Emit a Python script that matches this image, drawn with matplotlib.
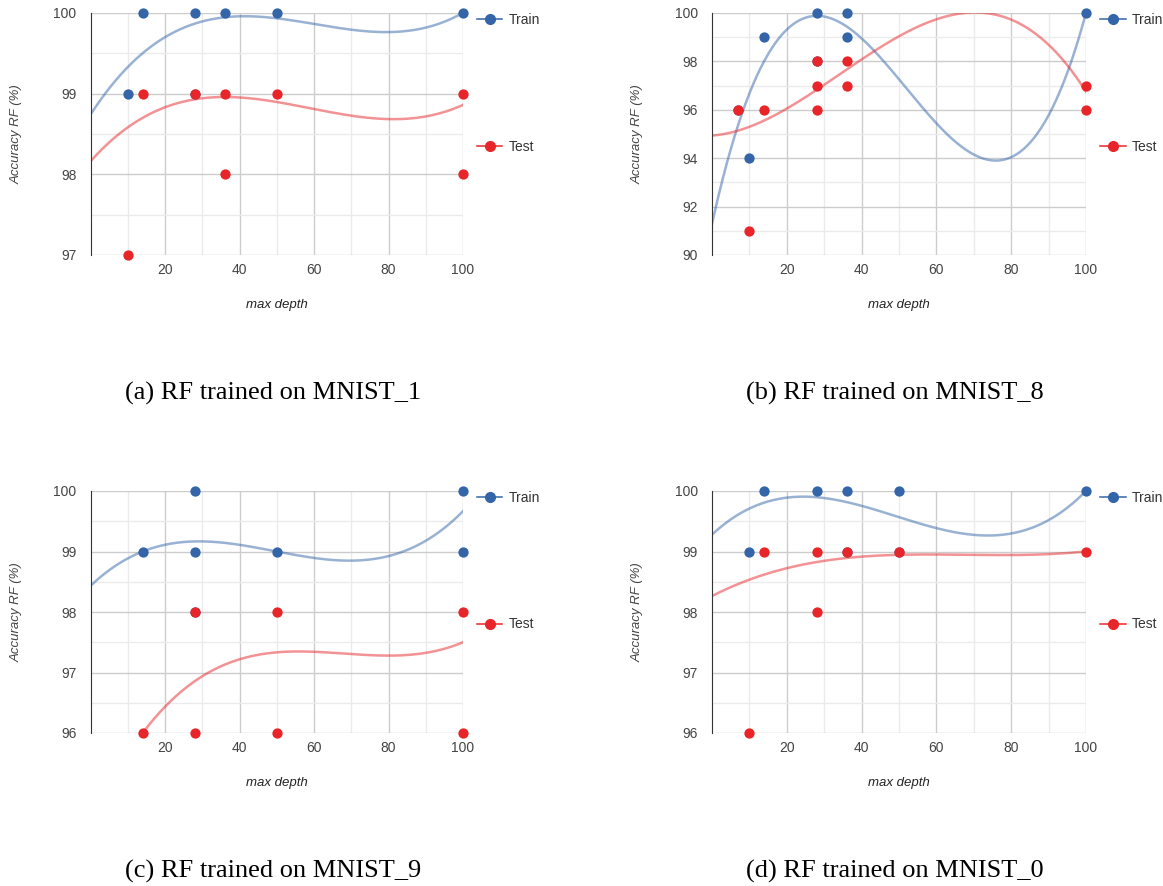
import numpy as np
import matplotlib
matplotlib.use("Agg")
import matplotlib.pyplot as plt
from matplotlib.lines import Line2D

# depth, accuracy and how many runs landed on that same point
# (repeated runs overlap on the plot, but they weigh in the cubic trendline)
depth_a_train = [10, 14, 28, 36, 50, 100, 28]
acc_a_train = [99, 100, 100, 100, 100, 100, 99]
runs_a_train = [3, 3, 1, 2, 2, 3, 1]
depth_a_test = [10, 14, 28, 36, 36, 50, 100, 100]
acc_a_test = [97, 99, 99, 99, 98, 99, 99, 98]
runs_a_test = [1, 7, 6, 7, 2, 7, 6, 1]

depth_b_train = [10, 14, 28, 36, 36, 100, 7, 28]
acc_b_train = [94, 99, 100, 100, 99, 100, 96, 98]
runs_b_train = [1, 3, 2, 3, 2, 4, 1, 1]
depth_b_test = [7, 10, 14, 28, 28, 28, 36, 36, 100, 100]
acc_b_test = [96, 91, 96, 98, 97, 96, 98, 97, 97, 96]
runs_b_test = [3, 1, 3, 2, 2, 2, 2, 2, 3, 1]

depth_c_train = [14, 28, 28, 50, 100, 100, 28]
acc_c_train = [99, 100, 99, 99, 100, 99, 98]
runs_c_train = [1, 2, 3, 1, 2, 1, 1]
depth_c_test = [14, 28, 28, 50, 50, 100, 100]
acc_c_test = [96, 98, 96, 98, 96, 98, 96]
runs_c_test = [4, 3, 4, 4, 2, 3, 1]

depth_d_train = [10, 14, 28, 36, 50, 100, 36, 50]
acc_d_train = [99, 100, 100, 100, 100, 100, 99, 99]
runs_d_train = [1, 5, 1, 1, 2, 5, 1, 1]
depth_d_test = [10, 14, 28, 28, 36, 50, 100]
acc_d_test = [96, 99, 99, 98, 99, 99, 99]
runs_d_test = [1, 10, 9, 4, 1, 7, 10]

captions = ["(a) RF trained on MNIST_1", "(b) RF trained on MNIST_8",
            "(c) RF trained on MNIST_9", "(d) RF trained on MNIST_0"]
y_limits = [(97, 100), (90, 100), (96, 100), (96, 100)]
y_steps = [1, 2, 1, 1]

train_color = "#3465a8"
test_color = "#e8262a"

plt.rcParams["font.family"] = ["Liberation Sans", "DejaVu Sans"]

fig = plt.figure(figsize=(11.63, 8.86), dpi=100)
W, H = 1163, 886
# axes boxes in pixels: left, top, width, height
boxes = [(90.5, 13, 372.5, 242), (712, 13, 374, 242),
         (90.5, 491, 372.5, 242), (712, 491, 374, 242)]

panels = [
    (depth_a_train, acc_a_train, runs_a_train, depth_a_test, acc_a_test, runs_a_test),
    (depth_b_train, acc_b_train, runs_b_train, depth_b_test, acc_b_test, runs_b_test),
    (depth_c_train, acc_c_train, runs_c_train, depth_c_test, acc_c_test, runs_c_test),
    (depth_d_train, acc_d_train, runs_d_train, depth_d_test, acc_d_test, runs_d_test),
]

xs = np.linspace(0, 100, 300)
for i, (dtr, atr, ntr, dte, ate, nte) in enumerate(panels):
    x0, y0, w, h = boxes[i]
    ax = fig.add_axes([x0 / W, 1 - (y0 + h) / H, w / W, h / H])
    lo, hi = y_limits[i]
    ax.set_xlim(0, 100)
    ax.set_ylim(lo, hi)
    ax.set_xticks([20, 40, 60, 80, 100])
    ax.set_xticks([10, 30, 50, 70, 90], minor=True)
    ax.set_yticks(np.arange(lo, hi + 0.1, y_steps[i]))
    ax.set_yticks(np.arange(lo + y_steps[i] / 2, hi, y_steps[i]), minor=True)
    ax.grid(which="major", color="#cccccc", lw=1)
    ax.grid(which="minor", color="#ebebeb", lw=1)
    ax.set_axisbelow(True)
    for s in ["top", "right", "bottom"]:
        ax.spines[s].set_visible(False)
    ax.spines["left"].set_color("#333333")
    ax.tick_params(which="both", length=0, labelsize=10, labelcolor="#444444")
    ax.tick_params(axis="y", pad=10)
    ax.tick_params(axis="x", pad=6)
    ax.set_xlabel("max depth", fontsize=9.5, style="italic", color="#222222", labelpad=15.5)
    ax.set_ylabel("Accuracy RF (%)", fontsize=9.5, style="italic", color="#444444", labelpad=22.5)

    # cubic trendlines over every run
    for d, a, n, col in [(dtr, atr, ntr, train_color), (dte, ate, nte, test_color)]:
        xr = np.repeat(d, n)
        yr = np.repeat(a, n).astype(float)
        coef = np.polyfit(xr, yr, 3)
        ax.plot(xs, np.polyval(coef, xs), color=col, alpha=0.5, lw=1.8, zorder=2)
    for d, a, col in [(dtr, atr, train_color), (dte, ate, test_color)]:
        ax.scatter(d, a, s=55, color=col, zorder=3, clip_on=False, linewidths=0)

    handles = [Line2D([], [], color=train_color, marker="o", ms=7, lw=1.1),
               Line2D([], [], color=test_color, marker="o", ms=7, lw=1.1)]
    ax.legend(handles, ["Train", "Test"], loc="upper left", bbox_to_anchor=(1.037, 1.0),
              frameon=False, fontsize=10, handlelength=1.85, handletextpad=0.45,
              labelspacing=8.1, borderpad=0, borderaxespad=0, labelcolor="#333333")

    cx = (x0 + w / 2 - 4) / W
    cy = 1 - (y0 + 380) / H
    fig.text(cx, cy, captions[i], ha="center", va="center", fontsize=19,
             family="Liberation Serif")

fig.savefig("out.png")
